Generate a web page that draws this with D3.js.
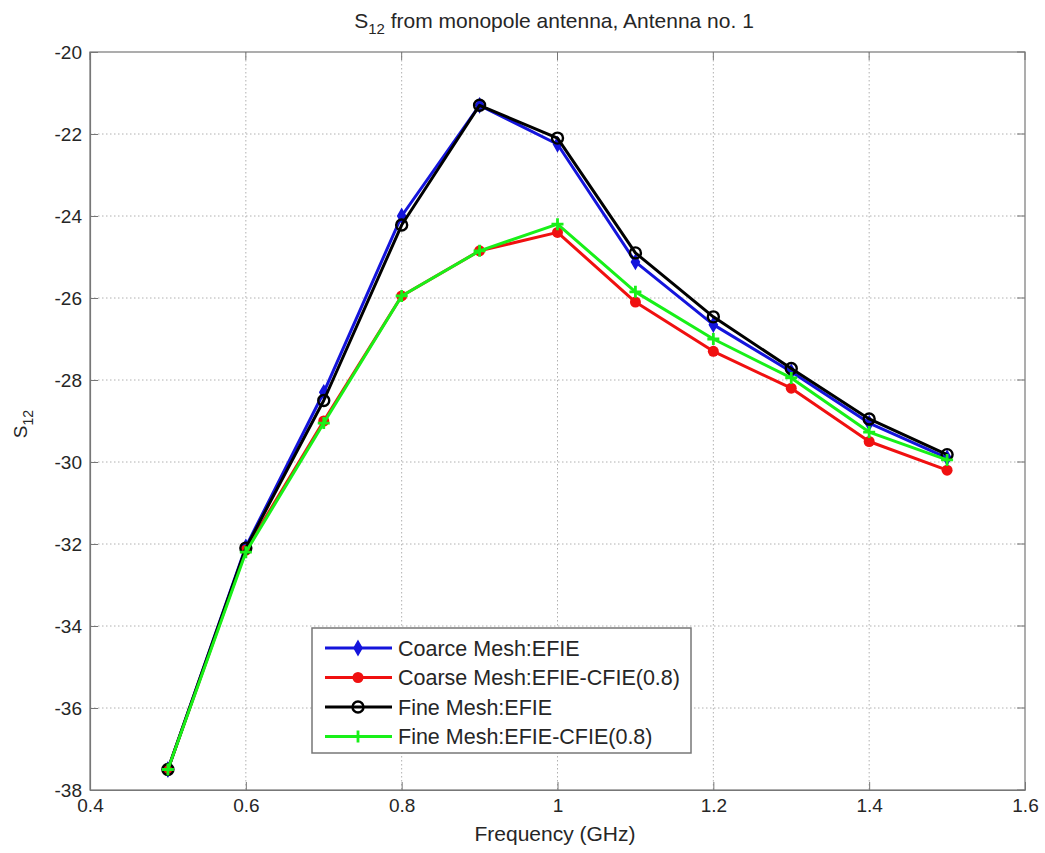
<!DOCTYPE html>
<html>
<head>
<meta charset="utf-8">
<script src="https://cdnjs.cloudflare.com/ajax/libs/d3/7.8.5/d3.min.js"></script>
<style>
  body { margin: 0; background: #fff; }
  text { font-family: "Liberation Sans", Arial, sans-serif; fill: #262626; }
  .grid line { stroke: #b0b0b0; stroke-dasharray: 1.5,2.5; }
</style>
</head>
<body>
<div id="chart"></div>
<script>
var freq = [0.5, 0.6, 0.7, 0.8, 0.9, 1.0, 1.1, 1.2, 1.3, 1.4, 1.5];
var coarseEfie = [-37.5, -32.07, -28.3, -24.0, -21.3, -22.25, -25.12, -26.65, -27.8, -29.05, -29.9];
var coarseCfie = [-37.5, -32.15, -29.0, -25.95, -24.85, -24.4, -26.1, -27.3, -28.2, -29.5, -30.2];
var fineEfie = [-37.5, -32.1, -28.5, -24.22, -21.3, -22.1, -24.9, -26.46, -27.72, -28.95, -29.82];
var fineCfie = [-37.5, -32.2, -29.05, -25.95, -24.85, -24.2, -25.85, -27.0, -27.95, -29.27, -29.95];
var seriesNames = ["Coarce Mesh:EFIE", "Coarse Mesh:EFIE-CFIE(0.8)", "Fine Mesh:EFIE", "Fine Mesh:EFIE-CFIE(0.8)"];
var xTicks = [0.4, 0.6, 0.8, 1, 1.2, 1.4, 1.6];
var yTicks = [-20, -22, -24, -26, -28, -30, -32, -34, -36, -38];

var series = [
    { name: seriesNames[0], values: coarseEfie, color: "#1414dc", marker: "diamond" },
    { name: seriesNames[1], values: coarseCfie, color: "#f01010", marker: "dot" },
    { name: seriesNames[2], values: fineEfie, color: "#000000", marker: "circle" },
    { name: seriesNames[3], values: fineCfie, color: "#18f018", marker: "plus" }
];

var W = 1045, H = 853;
var margin = { top: 52, right: 20, bottom: 63, left: 90 };
var width = W - margin.left - margin.right;
var height = H - margin.top - margin.bottom;

var svg = d3.select("#chart").append("svg")
    .attr("width", W)
    .attr("height", H);

var g = svg.append("g")
    .attr("transform", "translate(" + margin.left + "," + margin.top + ")");

var x = d3.scaleLinear().domain([0.4, 1.6]).range([0, width]);
var y = d3.scaleLinear().domain([-38, -20]).range([height, 0]);

// grid
g.append("g").attr("class", "grid")
    .selectAll("line").data(xTicks.slice(1, -1)).enter().append("line")
    .attr("x1", function (d) { return x(d); }).attr("x2", function (d) { return x(d); })
    .attr("y1", 0).attr("y2", height);
g.append("g").attr("class", "grid")
    .selectAll("line").data(yTicks.slice(1, -1)).enter().append("line")
    .attr("y1", function (d) { return y(d); }).attr("y2", function (d) { return y(d); })
    .attr("x1", 0).attr("x2", width);

// box
g.append("rect").attr("width", width).attr("height", height)
    .attr("fill", "none").attr("stroke", "#777").attr("stroke-width", 1.2);

// axes (ticks point inward)
var xAxis = g.append("g")
    .attr("transform", "translate(0," + height + ")")
    .call(d3.axisBottom(x).tickValues(xTicks).tickSizeInner(-8).tickSizeOuter(0).tickPadding(9)
        .tickFormat(function (d) { return String(d); }));
var yAxis = g.append("g")
    .call(d3.axisLeft(y).tickValues(yTicks).tickSizeInner(-8).tickSizeOuter(0).tickPadding(8)
        .tickFormat(function (d) { return String(d); }));
[xAxis, yAxis].forEach(function (a) {
    a.select(".domain").attr("stroke", "#777").attr("stroke-width", 1.2);
    a.selectAll(".tick line").attr("stroke", "#777");
    a.selectAll("text").style("font-size", "19px").attr("fill", "#262626");
});

// top/right ticks
g.append("g").selectAll("line").data(xTicks).enter().append("line")
    .attr("x1", function (d) { return x(d); }).attr("x2", function (d) { return x(d); })
    .attr("y1", 0).attr("y2", 8).attr("stroke", "#777");
g.append("g").selectAll("line").data(yTicks).enter().append("line")
    .attr("y1", function (d) { return y(d); }).attr("y2", function (d) { return y(d); })
    .attr("x1", width).attr("x2", width - 8).attr("stroke", "#777");

// lines
var line = d3.line()
    .x(function (d, i) { return x(freq[i]); })
    .y(function (d) { return y(d); });

function drawMarker(sel, type, color) {
    if (type === "diamond") {
        sel.append("path").attr("d", d3.symbol().type(d3.symbolDiamond).size(55)())
            .attr("fill", color).attr("stroke", color).attr("stroke-width", 1.5);
    } else if (type === "dot") {
        sel.append("circle").attr("r", 5.5).attr("fill", color);
    } else if (type === "circle") {
        sel.append("circle").attr("r", 5.5).attr("fill", "none").attr("stroke", color).attr("stroke-width", 2.4);
    } else {
        sel.append("path").attr("d", "M-6,0H6M0,-6V6")
            .attr("stroke", color).attr("stroke-width", 2.8);
    }
}

series.forEach(function (s) {
    g.append("path")
        .datum(s.values)
        .attr("fill", "none")
        .attr("stroke", s.color)
        .attr("stroke-width", 3)
        .attr("stroke-linejoin", "round")
        .attr("d", line);
    g.append("g").selectAll("g").data(s.values).enter().append("g")
        .attr("transform", function (d, i) { return "translate(" + x(freq[i]) + "," + y(d) + ")"; })
        .each(function () { drawMarker(d3.select(this), s.marker, s.color); });
});

// title
var title = svg.append("text")
    .attr("x", 554)
    .attr("y", 28)
    .attr("text-anchor", "middle")
    .style("font-size", "21px");
title.append("tspan").text("S");
title.append("tspan").attr("dy", 6).style("font-size", "15px").text("12");
title.append("tspan").attr("dy", -6).text(" from monopole antenna, Antenna no. 1");

// axis labels
svg.append("text")
    .attr("x", 555)
    .attr("y", 841)
    .attr("text-anchor", "middle")
    .style("font-size", "21px")
    .text("Frequency (GHz)");

var yl = svg.append("text")
    .attr("transform", "translate(27,424) rotate(-90)")
    .attr("text-anchor", "middle")
    .style("font-size", "19px");
yl.append("tspan").text("S");
yl.append("tspan").attr("dy", 6).style("font-size", "14px").text("12");

// legend
var legend = svg.append("g").attr("transform", "translate(312,628)");
legend.append("rect").attr("width", 379).attr("height", 125)
    .attr("fill", "#fff").attr("stroke", "#777").attr("stroke-width", 1.5);
series.forEach(function (s, i) {
    var row = legend.append("g").attr("transform", "translate(0," + (20 + i * 29.5) + ")");
    row.append("line").attr("x1", 13).attr("x2", 80).attr("stroke", s.color).attr("stroke-width", 3);
    var m = row.append("g").attr("transform", "translate(46,0)");
    drawMarker(m, s.marker, s.color);
    row.append("text").attr("x", 86).attr("dy", "0.36em")
        .style("font-size", "21.5px").text(s.name);
});
</script>
</body>
</html>
